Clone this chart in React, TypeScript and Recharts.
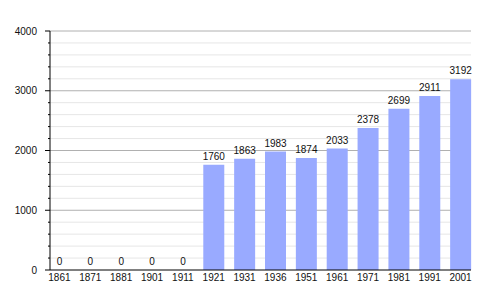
import React from 'react';
import { BarChart, Bar, XAxis, YAxis, CartesianGrid, LabelList } from 'recharts';

const years = ['1861', '1871', '1881', '1901', '1911', '1921', '1931', '1936', '1951', '1961', '1971', '1981', '1991', '2001'];
const population = [0, 0, 0, 0, 0, 1760, 1863, 1983, 1874, 2033, 2378, 2699, 2911, 3192];
const yTicks = [0, 200, 400, 600, 800, 1000, 1200, 1400, 1600, 1800, 2000, 2200, 2400, 2600, 2800, 3000, 3200, 3400, 3600, 3800, 4000];
const majorTicks = [1000, 2000, 3000, 4000];
const minorTicks = yTicks.filter((t) => t % 1000 !== 0);

const data = years.map((year, i) => ({ year, value: population[i] }));

const FONT = '"Liberation Sans", Arial, sans-serif';

// y axis tick: long tick + label on thousands, short tick otherwise
function YTick(props: any) {
  const { x, y, payload } = props;
  const major = payload.value % 1000 === 0;
  return (
    <g>
      <line x1={x - (major ? 5 : 2)} x2={x} y1={y} y2={y} stroke="#000" strokeWidth={1} />
      {major && (
        <text x={x - 13} y={y} dy="0.35em" textAnchor="end" fontSize={10} fontFamily={FONT} fill="#111">
          {payload.value}
        </text>
      )}
    </g>
  );
}

export default function App() {
  return (
    <div style={{ position: 'absolute', left: 0, top: 0, width: 500, height: 300, background: '#fff' }}>
      <BarChart
        width={500}
        height={300}
        data={data}
        margin={{ top: 31, right: 29, bottom: 0, left: 0 }}
        barSize={21}
      >
        <CartesianGrid vertical={false} horizontalValues={minorTicks} stroke="#e6e6e6" />
        <CartesianGrid vertical={false} horizontalValues={majorTicks} stroke="#b0b0b0" />
        <XAxis
          dataKey="year"
          height={30}
          padding={{ left: -6, right: -5 }}
          tickLine={false}
          tickSize={0}
          tickMargin={4}
          axisLine={{ stroke: '#000' }}
          interval={0}
          tick={{ fontSize: 10, fontFamily: FONT, fill: '#111' }}
        />
        <YAxis
          width={50}
          domain={[0, 4000]}
          ticks={yTicks}
          interval={0}
          tickLine={false}
          tickSize={0}
          tickMargin={0}
          axisLine={{ stroke: '#000' }}
          tick={<YTick />}
        />
        <Bar dataKey="value" fill="#99aaff" minPointSize={0.01} isAnimationActive={false}>
          <LabelList dataKey="value" position="top" offset={5} fontSize={10} fontFamily={FONT} fill="#111" />
        </Bar>
      </BarChart>
    </div>
  );
}
